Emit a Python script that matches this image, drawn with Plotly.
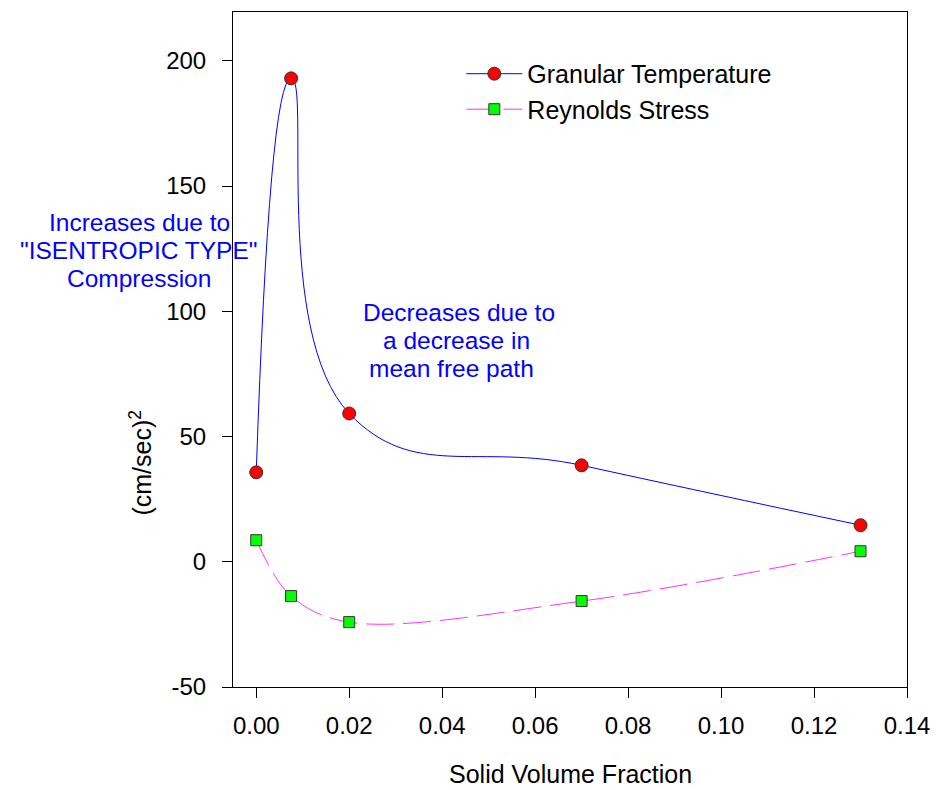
import plotly.graph_objects as go

x_vals = [0.0, 0.0075, 0.02, 0.07, 0.13]
granular_temp = [35.7, 193.0, 59.2, 38.5, 14.6]
reynolds_stress = [8.6, -13.7, -24.1, -15.7, 4.2]
x_ticks = [0.0, 0.02, 0.04, 0.06, 0.08, 0.10, 0.12, 0.14]
x_tick_labels = ["0.00", "0.02", "0.04", "0.06", "0.08", "0.10", "0.12", "0.14"]
y_ticks = [-50, 0, 50, 100, 150, 200]
y_tick_labels = ["-50", "0", "50", "100", "150", "200"]

note_left = ["Increases due to", "\"ISENTROPIC TYPE\"", "Compression"]
note_mid = ["Decreases due to", "a decrease in", "mean free path"]

FONT = "Liberation Sans, Arial, sans-serif"
L, R, T, B = 233, 32, 11, 103
W, H = 941, 790
PW, PH = W - L - R, H - T - B


def px(x):
    return (x - L) / PW


def py(y):
    return (H - B - y) / PH


fig = go.Figure()
fig.add_trace(go.Scatter(
    x=x_vals, y=granular_temp, name="Granular Temperature",
    mode="lines+markers",
    line=dict(color="#0000FF", width=1, shape="spline", smoothing=1.3),
    marker=dict(symbol="circle", size=13, color="#FF0000",
                line=dict(color="#333333", width=1)),
))
fig.add_trace(go.Scatter(
    x=x_vals, y=reynolds_stress, name="Reynolds Stress",
    mode="lines+markers",
    line=dict(color="#FF33FF", width=1, shape="spline", smoothing=1.0, dash="28px,9px"),
    marker=dict(symbol="square", size=11, color="#00FF00",
                line=dict(color="#333333", width=1)),
))

fig.update_layout(
    width=W, height=H,
    margin=dict(l=L, r=R, t=T, b=B),
    paper_bgcolor="white", plot_bgcolor="white",
    font=dict(family=FONT, size=24, color="black"),
    showlegend=True,
    legend=dict(x=px(462), y=py(50), xanchor="left", yanchor="top",
                bgcolor="rgba(0,0,0,0)", font=dict(size=25), itemwidth=56,
                tracegroupgap=0),
    xaxis=dict(
        range=[-0.005, 0.14], tickvals=x_ticks, ticktext=x_tick_labels,
        ticks="outside", ticklen=10, tickwidth=1, tickcolor="black",
        showline=True, linecolor="black", linewidth=1, mirror=True,
        showgrid=False, zeroline=False, tickfont=dict(size=24),
        ticklabelstandoff=7,
    ),
    yaxis=dict(
        range=[-50, 219.5], tickvals=y_ticks, ticktext=y_tick_labels,
        ticks="outside", ticklen=10, tickwidth=1, tickcolor="black",
        showline=True, linecolor="black", linewidth=1, mirror=True,
        showgrid=False, zeroline=False, tickfont=dict(size=24),
        ticklabelstandoff=11,
    ),
)

# axis titles
fig.add_annotation(text="Solid Volume Fraction", xref="paper", yref="paper",
                   x=px(571), y=py(774), xanchor="center", yanchor="middle",
                   showarrow=False, font=dict(family=FONT, size=25, color="black"))
fig.add_annotation(text="(cm/sec)<sup>2</sup>", xref="paper", yref="paper",
                   x=px(141), y=py(462), xanchor="center", yanchor="middle",
                   textangle=-90, showarrow=False,
                   font=dict(family=FONT, size=25, color="black"))

for txt, yc in zip(note_left, [222, 250, 278]):
    fig.add_annotation(text=txt, xref="paper", yref="paper", x=px(139), y=py(yc),
                       xanchor="center", yanchor="middle", showarrow=False,
                       borderpad=0,
                       font=dict(family=FONT, size=24.5, color="#0000FF"))
for txt, xc, yc in zip(note_mid, [460, 457, 452], [312, 340, 368]):
    fig.add_annotation(text=txt, xref="paper", yref="paper", x=px(xc), y=py(yc),
                       xanchor="center", yanchor="middle", showarrow=False,
                       borderpad=0,
                       font=dict(family=FONT, size=24.5, color="#0000FF"))

fig.write_html("out.html")
